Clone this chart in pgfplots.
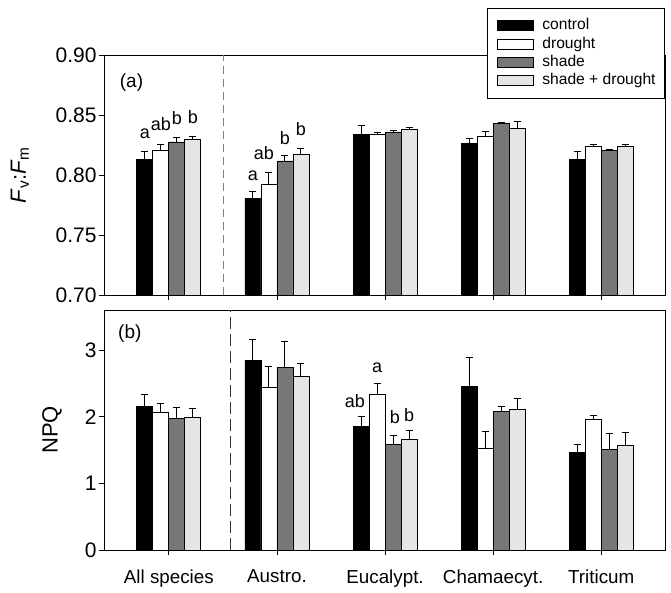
\documentclass[border=0pt]{standalone}
\usepackage{pgfplots}
\pgfplotsset{compat=1.18}
\usepackage{pgfplotstable}
\usepackage{fontspec}
\setmainfont{Liberation Sans}

\definecolor{cshade}{HTML}{777777}
\definecolor{csd}{HTML}{E5E5E5}

\pgfplotstableread{
x  c      ce      d      de      s      se      sd     sde
0  0.8133 0.0060  0.8206 0.0050  0.8275 0.0036  0.8294 0.0030
1  0.7806 0.0060  0.7922 0.0100  0.8117 0.0045  0.8169 0.0053
2  0.8336 0.0075  0.8339 0.0017  0.8356 0.0016  0.8381 0.0013
3  0.8264 0.0044  0.8319 0.0040  0.8431 0.0005  0.8389 0.0060
4  0.8128 0.0067  0.8236 0.0014  0.8206 0.0005  0.8239 0.0011
}\fvfm

\pgfplotstableread{
x  c      ce      d      de      s      se      sd     sde
0  2.155  0.180   2.060  0.140   1.980  0.165   1.990  0.135
1  2.840  0.320   2.435  0.315   2.740  0.385   2.610  0.195
2  1.860  0.145   2.335  0.160   1.590  0.135   1.655  0.135
3  2.455  0.430   1.520  0.255   2.080  0.070   2.115  0.155
4  1.465  0.120   1.960  0.060   1.510  0.240   1.575  0.190
}\npq

\newcommand{\tickfont}{\fontsize{18.8}{22}\selectfont}
\newcommand{\ytickfont}{\fontsize{21}{24}\selectfont}
\newcommand{\labfont}{\fontsize{22}{26}\selectfont}

\pgfplotsset{
  mybar/.style={draw=black, line width=0.8pt,
    error bars/.cd, y dir=plus, y explicit,
    error bar style={line width=1pt, black},
    error mark options={rotate=90, mark size=3.5pt, line width=1pt, black},
    /pgfplots/.cd,
    legend image code/.code={\draw[##1, line width=0.8pt] (0pt,-5pt) rectangle (36pt,5pt);}},
  common/.style={
    scale only axis, width=561pt, height=240pt,
    font=\tickfont,
    ybar=0pt, bar width=16pt,
    xmin=-0.6, xmax=4.59,
    xtick={0,1,2,3,4},
    xtick pos=bottom, ytick pos=left,
    tick align=outside, major tick length=5pt,
    axis line style={line width=0.8pt, black},
    every tick/.style={line width=0.8pt, black},
    xticklabel style={font=\tickfont, yshift=-11pt},
    yticklabel style={font=\ytickfont, xshift=1pt},
    every axis y label/.append style={font=\labfont},
    clip=true,
  },
}

\begin{document}
\begin{tikzpicture}
\path[use as bounding box] (0,0) rectangle (671pt,592pt);

% ---- top panel
\begin{axis}[common,
  at={(104pt,297pt)}, anchor=south west,
  ymin=0.70, ymax=0.90,
  ytick={0.70,0.75,0.80,0.85,0.90},
  yticklabels={0.70,0.75,0.80,0.85,0.90},
  xticklabels={},
  ylabel={\textit{F}\textsubscript{v}:\textit{F}\textsubscript{m}},
  ylabel style={at={(axis description cs:-0.15,0.5)}, anchor=center},
  legend style={at={(1,1.195)}, anchor=north east,
    draw=black, fill=white, line width=0.8pt,
    font=\fontsize{15.6}{18}\selectfont,
    inner xsep=9pt, inner ysep=10pt,
    column sep=9pt, row sep=3.8pt,
    nodes={inner sep=0pt, text height=11.2pt, text depth=3.3pt}},
  legend cell align=left,
]
\draw[dashed, gray, line width=0.8pt, dash pattern=on 8pt off 5pt] (axis cs:0.509,0.70) -- (axis cs:0.509,0.90);
\addplot[mybar, fill=black] table[x=x, y=c, y error=ce] {\fvfm};
\addplot[mybar, fill=white] table[x=x, y=d, y error=de] {\fvfm};
\addplot[mybar, fill=cshade] table[x=x, y=s, y error=se] {\fvfm};
\addplot[mybar, fill=csd] table[x=x, y=sd, y error=sde] {\fvfm};
\legend{control, drought, shade, shade + drought}
\begin{scope}[every node/.style={font=\fontsize{18}{20}\selectfont, anchor=base, inner sep=0pt}]
\node at (axis cs:-0.222,0.830) {a};
\node at (axis cs:-0.074,0.8367) {ab};
\node at (axis cs:0.074,0.8422) {b};
\node at (axis cs:0.222,0.843) {b};
\node at (axis cs:0.778,0.7958) {a};
\node at (axis cs:0.880,0.8125) {ab};
\node at (axis cs:1.074,0.8258) {b};
\node at (axis cs:1.222,0.8328) {b};
\end{scope}
\node[font=\fontsize{19}{22}\selectfont, anchor=west, inner sep=0pt] at (axis description cs:0.028,0.886) {(a)};
\end{axis}

% ---- bottom panel
\begin{axis}[common,
  at={(104pt,42pt)}, anchor=south west,
  ymin=0, ymax=3.6,
  ytick={0,1,2,3},
  yticklabels={0,1,2,3},
  xticklabels={All species, Austro., Eucalypt., Chamaecyt., Triticum},
  ylabel={NPQ},
  ylabel style={at={(axis description cs:-0.0927,0.5)}, anchor=center},
]
\draw[dashed, black!80, line width=0.8pt, dash pattern=on 12pt off 5pt] (axis cs:0.565,0) -- (axis cs:0.565,3.6);
\addplot[mybar, fill=black] table[x=x, y=c, y error=ce] {\npq};
\addplot[mybar, fill=white] table[x=x, y=d, y error=de] {\npq};
\addplot[mybar, fill=cshade] table[x=x, y=s, y error=se] {\npq};
\addplot[mybar, fill=csd] table[x=x, y=sd, y error=sde] {\npq};
\begin{scope}[every node/.style={font=\fontsize{18}{20}\selectfont, anchor=base, inner sep=0pt}]
\node at (axis cs:1.722,2.145) {ab};
\node at (axis cs:1.926,2.67) {a};
\node at (axis cs:2.09,1.905) {b};
\node at (axis cs:2.222,1.935) {b};
\end{scope}
\node[font=\fontsize{19}{22}\selectfont, anchor=west, inner sep=0pt] at (axis description cs:0.025,0.90) {(b)};
\end{axis}
\end{tikzpicture}
\end{document}
